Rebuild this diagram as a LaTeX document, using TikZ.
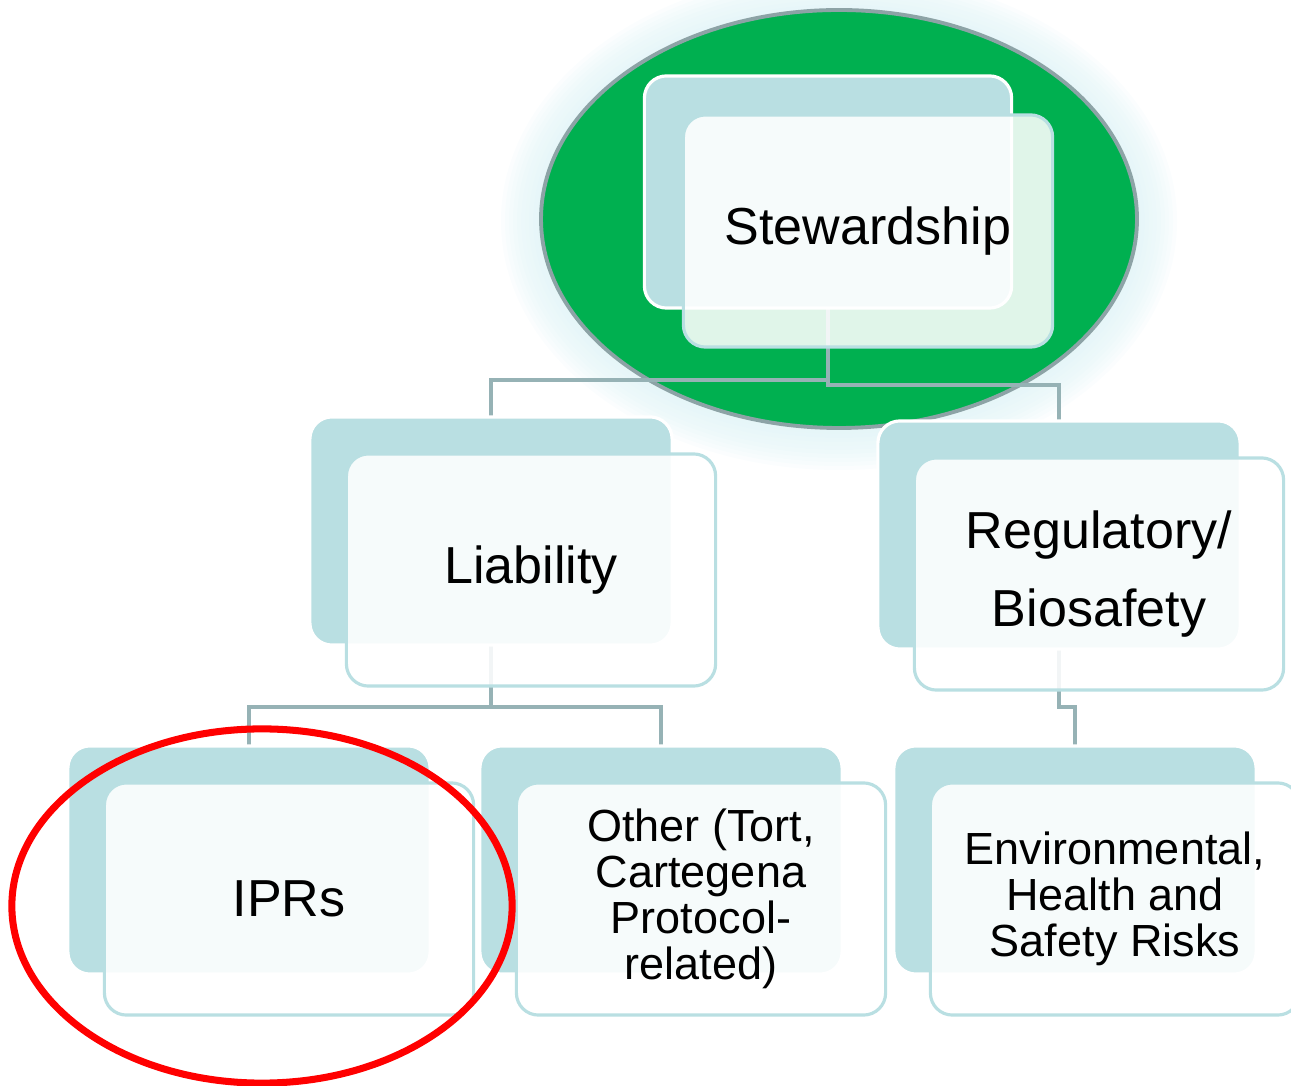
\documentclass[tikz,border=0pt]{standalone}
\usepackage{fontspec}
\setmainfont{Liberation Sans}
\usetikzlibrary{shapes.geometric}
\pgfdeclarelayer{glow}
\pgfdeclarelayer{conn}
\pgfsetlayers{glow,conn,main}
\definecolor{tealback}{RGB}{185,223,226}
\definecolor{connc}{RGB}{150,178,181}
\definecolor{ellborder}{RGB}{141,163,166}
\definecolor{greenfill}{RGB}{0,176,80}
\definecolor{haloc}{RGB}{222,243,246}
\tikzset{
  backbox/.style={rectangle, rounded corners=0.22cm, fill=tealback, draw=white, line width=0.9pt,
    minimum width=3.62cm, minimum height=2.28cm, inner sep=0pt, outer sep=0pt},
  frontbox/.style={rectangle, rounded corners=0.22cm, fill=white, fill opacity=0.88, text opacity=1,
    draw=tealback, line width=0.9pt, minimum width=3.69cm, minimum height=2.32cm,
    inner sep=0pt, outer sep=0pt, align=center, text=black},
  bigtext/.style={font=\fontsize{14.8}{22.2}\selectfont},
  smalltext/.style={font=\fontsize{12.8}{13.1}\selectfont},
  connector/.style={draw=connc, line width=1.1pt},
}
\begin{document}
\begin{tikzpicture}[x=0.01cm,y=-0.01cm]
\useasboundingbox (0,0) rectangle (1291,1086);

% glowing ellipse
\begin{pgfonlayer}{glow}
  \foreach \i in {1,...,10}{
    \fill[haloc, opacity=0.13] (839,221) ellipse [x radius={298+4*\i}, y radius={209+4*\i}];
  }
  \draw[ellborder, fill=greenfill, line width=1.1pt] (839,219) ellipse [x radius=298, y radius=209];
\end{pgfonlayer}

% nodes: back boxes
\node[backbox, minimum width=3.67cm, minimum height=2.32cm] (stewB) at (828,192) {};
\node[backbox] (libB) at (491,531) {};
\node[backbox] (regB) at (1059,535) {};
\node[backbox] (iprB) at (249,860) {};
\node[backbox] (othB) at (661,860) {};
\node[backbox] (envB) at (1075,860) {};

% front boxes with text
\node[frontbox, bigtext] (stewF) at (868,231) {Stewardship};
\node[frontbox, bigtext] (libF) at (531,570) {Liability};
\node[frontbox, bigtext] (regF) at (1099,574) {Regulatory/\\Biosafety};
\node[frontbox, bigtext] (iprF) at (289,899) {IPRs};
\node[frontbox, smalltext] (othF) at (701,899) {Other (Tort,\\Cartegena\\Protocol-\\related)};
\node[frontbox, smalltext] (envF) at (1115,899) {Environmental,\\Health and\\Safety Risks};

% connectors
\begin{pgfonlayer}{conn}
  \draw[connector] (stewB.south) -- ++(0,72) -| (libB.north);
  \draw[connector] (stewB.south) -- ++(0,77) -| (regB.north);
  \draw[connector] (libB.south) -- ++(0,62) -| (iprB.north);
  \draw[connector] (libB.south) -- ++(0,62) -| (othB.north);
  \draw[connector] (regB.south) -- ++(0,58) -| (envB.north);
\end{pgfonlayer}

% red highlight
\node[draw=red, line width=2pt, ellipse, minimum width=5.0cm, minimum height=3.54cm, inner sep=0pt] (hl) at (262,906) {};
\end{tikzpicture}
\end{document}
